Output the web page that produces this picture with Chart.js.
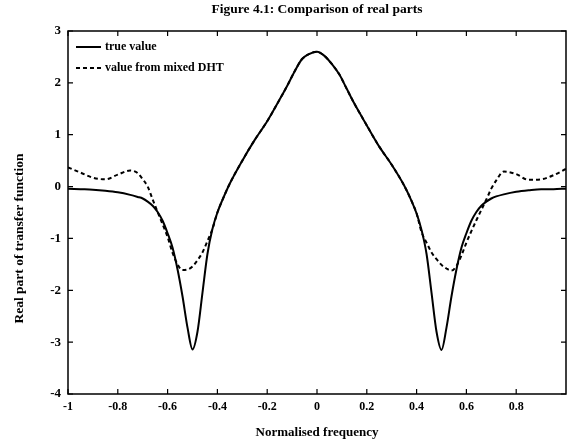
<!DOCTYPE html>
<html>
<head>
<meta charset="utf-8">
<script src="https://cdn.jsdelivr.net/npm/chart.js@4/dist/chart.umd.min.js"></script>
<style>
  html, body { margin: 0; padding: 0; background: #ffffff; }
  #wrap { width: 568px; height: 446px; }
</style>
</head>
<body>
<div id="wrap"><canvas id="c" width="568" height="446"></canvas></div>
<script>
// Normalised frequency sample positions
const freq = [
  -1, -0.95, -0.9, -0.85, -0.8, -0.75, -0.72, -0.7, -0.68, -0.66, -0.64, -0.62, -0.6, -0.58, -0.56, -0.54, -0.52,
  -0.5, -0.48, -0.46, -0.44, -0.42, -0.4, -0.38, -0.35, -0.3, -0.25, -0.2, -0.15, -0.12, -0.09, -0.06, -0.03,
  0,
  0.03, 0.06, 0.09, 0.12, 0.15, 0.2, 0.25, 0.3, 0.35, 0.38, 0.4, 0.42, 0.44, 0.46, 0.48,
  0.5, 0.52, 0.54, 0.56, 0.58, 0.6, 0.62, 0.64, 0.66, 0.68, 0.7, 0.72, 0.75, 0.8, 0.85, 0.9, 0.95, 1
];
// "true value" (solid line)
const trueValue = [
  -0.04, -0.05, -0.06, -0.08, -0.11, -0.16, -0.20, -0.23, -0.29, -0.37, -0.49, -0.66, -0.90, -1.18, -1.60, -2.12, -2.72,
  -3.14, -2.80, -2.05, -1.30, -0.82, -0.50, -0.26, 0.06, 0.50, 0.90, 1.26, 1.68, 1.94, 2.22, 2.46, 2.56,
  2.60,
  2.52, 2.36, 2.16, 1.88, 1.60, 1.18, 0.77, 0.42, 0.02, -0.28, -0.52, -0.84, -1.30, -2.05, -2.80,
  -3.15, -2.72, -2.12, -1.60, -1.18, -0.90, -0.66, -0.49, -0.37, -0.29, -0.23, -0.19, -0.15, -0.10, -0.07, -0.05, -0.05, -0.04
];
// "value from mixed DHT" (dashed line)
const mixedDHT = [
  0.37, 0.27, 0.17, 0.14, 0.23, 0.31, 0.26, 0.14, 0.00, -0.25, -0.49, -0.73, -0.97, -1.28, -1.50, -1.61, -1.60,
  -1.54, -1.42, -1.27, -1.05, -0.82, -0.50, -0.26, 0.06, 0.50, 0.90, 1.26, 1.68, 1.94, 2.22, 2.46, 2.56,
  2.60,
  2.52, 2.36, 2.16, 1.88, 1.60, 1.18, 0.77, 0.42, 0.02, -0.28, -0.52, -0.88, -1.08, -1.27, -1.40,
  -1.51, -1.58, -1.62, -1.53, -1.33, -1.08, -0.86, -0.65, -0.45, -0.25, -0.04, 0.12, 0.29, 0.24, 0.13, 0.14, 0.22, 0.34
];
const xTicks = [-1, -0.8, -0.6, -0.4, -0.2, 0, 0.2, 0.4, 0.6, 0.8];
const yTicks = [3, 2, 1, 0, -1, -2, -3, -4];
const seriesNames = ['true value', 'value from mixed DHT'];
const titleText = 'Figure 4.1: Comparison of real parts';
const xTitle = 'Normalised frequency';
const yTitle = 'Real part of transfer function';

const SERIF = '"Liberation Serif", "DejaVu Serif", serif';

const pts = (ys) => freq.map((f, i) => ({ x: f, y: ys[i] }));

// frame with inward tick marks on all four sides, in-plot legend, y-axis title
const frameTicks = {
  id: 'frameTicks',
  afterDraw(chart) {
    const { ctx, chartArea: a, scales } = chart;
    ctx.save();
    ctx.strokeStyle = '#000';
    ctx.lineCap = 'square';
    ctx.lineWidth = 1.5;
    ctx.beginPath();
    ctx.moveTo(a.left, a.top); ctx.lineTo(a.right, a.top);
    ctx.lineTo(a.right, a.bottom); ctx.lineTo(a.left, a.bottom);
    ctx.closePath();
    ctx.stroke();
    ctx.lineWidth = 1.2;
    ctx.lineCap = 'butt';
    const L = 5;
    ctx.beginPath();
    scales.x.ticks.forEach(t => {
      const px = scales.x.getPixelForValue(t.value);
      ctx.moveTo(px, a.bottom); ctx.lineTo(px, a.bottom - L);
      ctx.moveTo(px, a.top); ctx.lineTo(px, a.top + L);
    });
    scales.y.ticks.forEach(t => {
      const py = scales.y.getPixelForValue(t.value);
      ctx.moveTo(a.left, py); ctx.lineTo(a.left + L, py);
      ctx.moveTo(a.right, py); ctx.lineTo(a.right - L, py);
    });
    ctx.stroke();

    // legend (inside plot, top-left, no box)
    const lx = a.left + 8, lw = 25, rowH = 21, ly = a.top + 16;
    ctx.font = 'bold 12px ' + SERIF;
    ctx.fillStyle = '#000';
    ctx.textBaseline = 'middle';
    ctx.textAlign = 'left';
    chart.data.datasets.forEach((ds, i) => {
      const y = ly + i * rowH;
      ctx.save();
      ctx.lineWidth = ds.borderWidth;
      ctx.setLineDash(ds.borderDash || []);
      ctx.beginPath();
      ctx.moveTo(lx, y); ctx.lineTo(lx + lw, y);
      ctx.stroke();
      ctx.restore();
      ctx.fillText(ds.label, lx + lw + 4, y);
    });

    // y-axis title (rotated), placed as in the figure
    ctx.save();
    ctx.translate(20, (a.top + a.bottom) / 2 + 26);
    ctx.rotate(-Math.PI / 2);
    ctx.font = 'bold 13.5px ' + SERIF;
    ctx.textAlign = 'center';
    ctx.textBaseline = 'middle';
    ctx.fillText(yTitle, 0, 0);
    ctx.restore();

    ctx.restore();
  }
};

new Chart(document.getElementById('c'), {
  type: 'line',
  data: {
    datasets: [
      {
        label: seriesNames[0],
        data: pts(trueValue),
        borderColor: '#000',
        backgroundColor: '#000',
        borderWidth: 2,
        pointRadius: 0,
        cubicInterpolationMode: 'monotone',
        fill: false
      },
      {
        label: seriesNames[1],
        data: pts(mixedDHT),
        borderColor: '#000',
        backgroundColor: '#000',
        borderWidth: 2,
        borderDash: [4, 3],
        pointRadius: 0,
        cubicInterpolationMode: 'monotone',
        fill: false
      }
    ]
  },
  options: {
    responsive: false,
    animation: false,
    layout: { padding: { left: 0, right: 2, top: 0, bottom: 0 } },
    plugins: {
      title: {
        display: true,
        fullSize: false,
        text: titleText,
        color: '#000',
        font: { family: SERIF, size: 13.5, weight: 'bold' },
        padding: { top: 1, bottom: 13.8 }
      },
      legend: { display: false },
      tooltip: { enabled: false }
    },
    scales: {
      x: {
        type: 'linear',
        min: -1,
        max: 1,
        afterFit: (s) => { s.height = 52; },
        afterBuildTicks: (s) => { s.ticks = xTicks.map(v => ({ value: v })); },
        grid: { display: false, drawTicks: false },
        border: { display: false },
        ticks: {
          color: '#000',
          font: { family: SERIF, size: 12, weight: 'bold' },
          padding: 6,
          maxRotation: 0,
          autoSkip: false,
          callback: (v) => String(Number(v.toFixed(1)))
        },
        title: {
          display: true,
          text: xTitle,
          color: '#000',
          font: { family: SERIF, size: 13, weight: 'bold' },
          padding: { top: 0, bottom: 5.2 }
        }
      },
      y: {
        type: 'linear',
        min: -4,
        max: 3,
        afterFit: (s) => { s.width = 68; },
        afterBuildTicks: (s) => { s.ticks = yTicks.map(v => ({ value: v })); },
        grid: { display: false, drawTicks: false },
        border: { display: false },
        ticks: {
          color: '#000',
          font: { family: SERIF, size: 13, weight: 'bold' },
          padding: 7,
          autoSkip: false,
          callback: (v) => String(v)
        },
        title: { display: false }
      }
    }
  },
  plugins: [frameTicks]
});
</script>
</body>
</html>
